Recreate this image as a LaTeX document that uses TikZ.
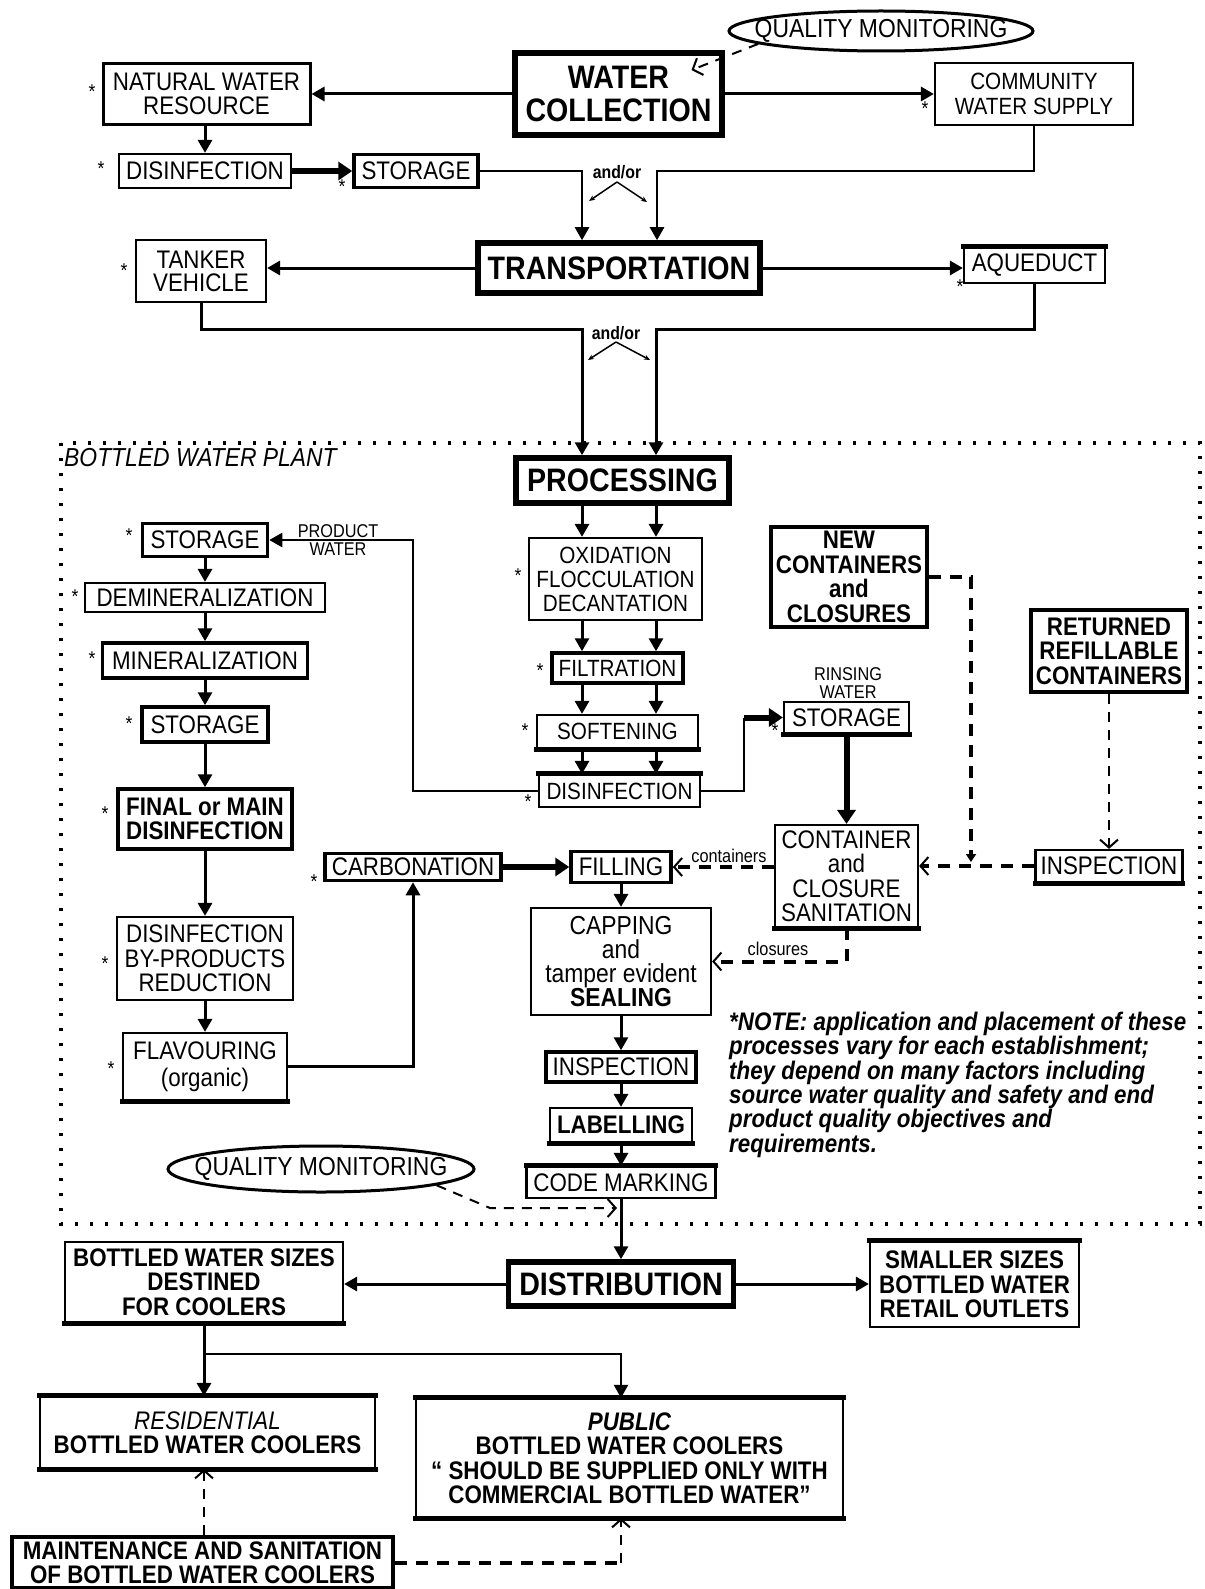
\documentclass[tikz,border=0pt]{standalone}
\usepackage{fontspec}
\setmainfont{Liberation Sans}[FakeStretch=0.88]
\usetikzlibrary{arrows.meta,shapes.geometric,calc}

\begin{document}
\begin{tikzpicture}[
    x=1pt, y=-1pt,
    every node/.style={font=\fontsize{25.4}{24.5}\selectfont, inner sep=0pt, align=center},
    % boxes
    box/.style={rectangle, draw, line width=2.2pt},
    heavy/.style={box, line width=3.5pt},
    major/.style={box, line width=5.5pt, font=\fontsize{32.5}{33}\selectfont\bfseries},
    topbar/.style={append after command={(\tikzlastnode.north west) edge[line width=5pt, shorten <=-1.5pt, shorten >=-1.5pt] (\tikzlastnode.north east)}},
    botbar/.style={append after command={(\tikzlastnode.south west) edge[line width=5pt, shorten <=-1.5pt, shorten >=-1.5pt] (\tikzlastnode.south east)}},
    boldtxt/.style={font=\fontsize{25.4}{24.5}\selectfont\bfseries},
    slimtxt/.style={font=\fontsize{23.5}{24}\selectfont},
    monitor/.style={ellipse, draw, line width=3pt, font=\fontsize{26}{26}\selectfont},
    tag/.style={font=\fontsize{18.5}{17.5}\selectfont},
    andor/.style={font=\fontsize{18}{18}\selectfont\bfseries},
    astx/.style={font=\fontsize{20}{20}\selectfont},
    notetxt/.style={font=\fontsize{25.4}{24.3}\selectfont\bfseries\itshape, align=left},
    % connectors
    flow/.style={line width=3pt, -{Triangle[length=13pt, width=14pt]}},
    fatflow/.style={line width=6pt, -{Triangle[length=14pt, width=18pt]}},
    pipe/.style={line width=2pt},
    forkarr/.style={line width=1.5pt, -{Stealth[length=6pt, width=5pt]}},
    hdash/.style={line width=4pt, dash pattern=on 12pt off 9pt},
    ldash/.style={line width=2pt, dash pattern=on 10pt off 8pt},
    chev/.style={-{Straight Barb[length=8pt, width=18pt, line width=2pt]}},
    plant/.style={line width=4pt, dash pattern=on 3pt off 12pt}
]
\useasboundingbox (0,0) rectangle (1204,1589);

% Collection and transport
\node[monitor, minimum width=304pt, minimum height=40pt] (qm1) at (881,31) {\makebox[0pt]{QUALITY MONITORING}};
\node[major, minimum width=207pt, minimum height=82pt] (wc) at (618.5,94) {WATER\\COLLECTION};
\node[box, line width=3pt, minimum width=207pt, minimum height=61pt] (nwr) at (206.5,94) {NATURAL WATER\\RESOURCE};
\node[box, minimum width=198pt, minimum height=62pt, font=\fontsize{23.5}{25}\selectfont] (cws) at (1034,94) {COMMUNITY\\WATER SUPPLY};
\node[box, minimum width=172pt, minimum height=34pt] (dis1) at (205,171) {DISINFECTION};
\node[heavy, minimum width=124pt, minimum height=33pt] (sto1) at (416,171) {STORAGE};
\node[major, minimum width=282pt, minimum height=50pt] (trans) at (619,268) {TRANSPORTATION};
\node[box, minimum width=130pt, minimum height=62pt, font=\fontsize{25.4}{23}\selectfont] (tank) at (201,271) {TANKER\\VEHICLE};
\node[box, topbar, minimum width=141pt, minimum height=35pt] (aqu) at (1034.5,265.5) {AQUEDUCT};
\node[andor] (ao1) at (617,172) {and/or};
\node[andor] (ao2) at (616,333) {and/or};

% Bottled water plant
\draw[plant] (61,443) rectangle (1200,1224);
\node[font=\fontsize{26}{26}\selectfont\itshape, anchor=west] (plantlbl) at (64,458) {BOTTLED WATER PLANT};

\node[major, minimum width=213pt, minimum height=45pt] (proc) at (622.5,480.5) {PROCESSING};
\node[box, slimtxt, minimum width=173pt, minimum height=82pt] (oxid) at (615.5,579) {OXIDATION\\FLOCCULATION\\DECANTATION};
\node[heavy, slimtxt, minimum width=131pt, minimum height=30pt] (filt) at (617.5,668) {FILTRATION};
\node[box, botbar, slimtxt, minimum width=161pt, minimum height=33pt] (soft) at (617.5,731.5) {SOFTENING};
\node[box, topbar, slimtxt, minimum width=161pt, minimum height=32pt] (dis2) at (619.5,791) {DISINFECTION};

\node[heavy, minimum width=125pt, minimum height=33pt] (sto3) at (205,540) {STORAGE};
\node[box, minimum width=240pt, minimum height=29pt] (demin) at (205,597.5) {DEMINERALIZATION};
\node[heavy, minimum width=205pt, minimum height=35pt] (minr) at (205,660.5) {MINERALIZATION};
\node[heavy, minimum width=126pt, minimum height=35pt] (sto4) at (205,724.5) {STORAGE};
\node[heavy, boldtxt, minimum width=174pt, minimum height=60pt] (fin) at (205,819) {FINAL or MAIN\\DISINFECTION};
\node[box, minimum width=176pt, minimum height=83pt] (dbp) at (205,958.5) {DISINFECTION\\BY-PRODUCTS\\REDUCTION};
\node[box, botbar, minimum width=164pt, minimum height=67pt, font=\fontsize{25.4}{27}\selectfont] (flav) at (205,1066.5) {FLAVOURING\\(organic)};
\node[heavy, minimum width=176pt, minimum height=27pt] (carb) at (413,867) {CARBONATION};
\node[heavy, minimum width=100pt, minimum height=31pt] (fill) at (621,867) {FILLING};

\node[box, botbar, minimum width=125pt, minimum height=31pt] (sto2) at (846.5,717.5) {STORAGE};
\node[tag] (rinse) at (848,683) {RINSING\\WATER};
\node[heavy, boldtxt, minimum width=156pt, minimum height=100pt] (newc) at (849,577) {NEW\\CONTAINERS\\and\\CLOSURES};
\node[heavy, boldtxt, minimum width=156pt, minimum height=82pt] (rrc) at (1109,651) {RETURNED\\REFILLABLE\\CONTAINERS};
\node[box, botbar, minimum width=143pt, minimum height=102pt] (ccs) at (846.5,876) {CONTAINER\\and\\CLOSURE\\SANITATION};
\node[box, botbar, minimum width=147pt, minimum height=32pt] (insp1) at (1109,866) {INSPECTION};

\node[box, minimum width=180pt, minimum height=107pt, font=\fontsize{26}{24}\selectfont] (cap) at (621,961.5) {CAPPING\\and\\tamper evident\\\textbf{SEALING}};
\node[heavy, minimum width=150pt, minimum height=30pt] (insp2) at (621,1067) {INSPECTION};
\node[box, botbar, boldtxt, minimum width=142pt, minimum height=34pt] (lab) at (621,1125) {LABELLING};
\node[box, topbar, minimum width=189pt, minimum height=31pt] (code) at (621,1182.5) {CODE MARKING};
\node[monitor, minimum width=306pt, minimum height=46pt] (qm2) at (321,1169) {\makebox[0pt]{QUALITY MONITORING}};

\node[notetxt, anchor=north west] (note) at (729,1012) {*NOTE: application and placement of these\\processes vary for each establishment;\\they depend on many factors including\\source water quality and safety and end\\product quality objectives and\\requirements.};

% Distribution
\node[major, minimum width=225pt, minimum height=44pt] (dist) at (621,1284) {DISTRIBUTION};
\node[box, botbar, boldtxt, minimum width=278pt, minimum height=80pt] (bws) at (204,1282) {BOTTLED WATER SIZES\\DESTINED\\FOR COOLERS};
\node[box, topbar, boldtxt, minimum width=209pt, minimum height=85pt] (small) at (974.5,1284.5) {SMALLER SIZES\\BOTTLED WATER\\RETAIL OUTLETS};
\node[box, topbar, botbar, boldtxt, minimum width=335pt, minimum height=71pt] (resi) at (207.5,1432.5) {{\mdseries\itshape RESIDENTIAL}\\BOTTLED WATER COOLERS};
\node[box, topbar, botbar, boldtxt, minimum width=427pt, minimum height=118pt] (pub) at (629.5,1458) {{\itshape PUBLIC}\\BOTTLED WATER COOLERS\\“ SHOULD BE SUPPLIED ONLY WITH\\COMMERCIAL BOTTLED WATER”};
\node[heavy, line width=4.5pt, boldtxt, minimum width=381pt, minimum height=51pt] (maint) at (202.5,1562.5) {MAINTENANCE AND SANITATION\\OF BOTTLED WATER COOLERS};

% Asterisks
\foreach \sx/\sy [count=\i] in {92/88, 101/165, 342/183, 925/105, 124/267, 960/283, 518/572, 540/667, 525/727, 528/798, 129/532, 75/593, 92/655, 129/720, 105/810, 105/960, 111/1065, 314/878, 775/727}
    \node[astx] (st\i) at (\sx,\sy+4) {*};

% Connectors: collection and transport
\coordinate (tin1) at ([xshift=-37pt]trans.north);
\coordinate (tin2) at ([xshift=38pt]trans.north);
\coordinate (pin1) at ([xshift=-40.5pt]proc.north);
\coordinate (pin2) at ([xshift=33.5pt]proc.north);
\coordinate (lane2) at (0,329);

\draw[ldash, chev] (qm1.186) -- ([xshift=73pt, yshift=24pt]wc.center);
\draw[flow] (wc.west) -- (nwr.east);
\draw[flow] (wc.east) -- (cws.west);
\draw[flow] (nwr.south -| dis1) -- (dis1.north);
\draw[fatflow] (dis1.east) -- (sto1.west);
\draw[flow, line width=2.5pt] (sto1.east) -| (tin1);
\draw[flow, line width=2.5pt] (cws.south) |- (tin2 |- sto1.east) -- (tin2);
\draw[forkarr] ([yshift=-10pt]ao1.center) -- ++(-28,19);
\draw[forkarr] ([yshift=-10pt]ao1.center) -- ++(30,20);

\draw[flow] (trans.west) -- (trans.west -| tank.east);
\draw[flow] (trans.east) -- (trans.east -| aqu.west);
\draw[flow] (tank.south) |- (pin1 |- lane2) -- (pin1);
\draw[flow] (aqu.south) |- (pin2 |- lane2) -- (pin2);
\draw[forkarr] ([yshift=-9pt]ao2.center) -- ++(-28,18);
\draw[forkarr] ([yshift=-9pt]ao2.center) -- ++(34,18);

% Connectors: processing
\foreach \a/\b in {proc/oxid, oxid/filt, filt/soft, soft/dis2} {
    \draw[flow] (pin1 |- \a.south) -- (pin1 |- \b.north);
    \draw[flow] (pin2 |- \a.south) -- (pin2 |- \b.north);
}
\foreach \a/\b in {sto3/demin, demin/minr, minr/sto4, sto4/fin, fin/dbp, dbp/flav}
    \draw[flow] (\a.south) -- (\b.north);

\coordinate (lane3) at (413,540);
\draw[flow, line width=2.5pt] (dis2.west) -| (lane3) -- (sto3.east);
\node[tag] (prodw) at (338,540) {PRODUCT\\WATER};

\coordinate (lane4) at (744,717.5);
\draw[pipe] (dis2.east) -| (lane4);
\draw[fatflow] (lane4) -- (sto2.west);
\draw[fatflow] (sto2.south) -- (ccs.north);

\coordinate (drop) at (971,862);
\draw[hdash, -{Triangle[length=8pt, width=10pt]}] (newc.east) -| (drop);
\draw[ldash, chev] (rrc.south) -- (insp1.north);
\draw[hdash, chev] (insp1.west) -- (insp1.west -| ccs.east);
\draw[hdash, chev] (fill.east -| ccs.west) -- (fill.east);
\node[tag] (contl) at (729,856) {containers};
\draw[hdash, chev] (ccs.south) |- (cap.east);
\node[tag] (closl) at (778,949) {closures};

\draw[fatflow] (carb.east) -- (fill.west);
\draw[flow] (flav.east) -| (carb.south);
\draw[flow] (fill.south) -- (cap.north);
\foreach \a/\b in {cap/insp2, insp2/lab, lab/code}
    \draw[flow] (\a.south) -- (\b.north);

\coordinate (qmb) at (490,1208);
\coordinate (qmc) at (617,1208);
\draw[ldash, chev] (qm2.-8) -- (qmb) -- (qmc);

% Connectors: distribution
\draw[flow] (code.south) -- (dist.north);
\draw[flow] (dist.west) -- (dist.west -| bws.east);
\draw[flow] (dist.east) -- (dist.east -| small.west);
\draw[flow] (bws.south) -- (bws.south |- resi.north);
\coordinate (fork) at ([yshift=-31pt]bws.south);
\draw[flow, line width=2.2pt] (fork) -| (dist.south |- pub.north);
\draw[ldash, chev] (bws.south |- maint.north) -- (bws.south |- resi.south);
\draw[hdash] (maint.east) -- (maint.east -| dist.south);
\draw[ldash, chev] (maint.east -| dist.south) -- (dist.south |- pub.south);

\end{tikzpicture}
\end{document}
